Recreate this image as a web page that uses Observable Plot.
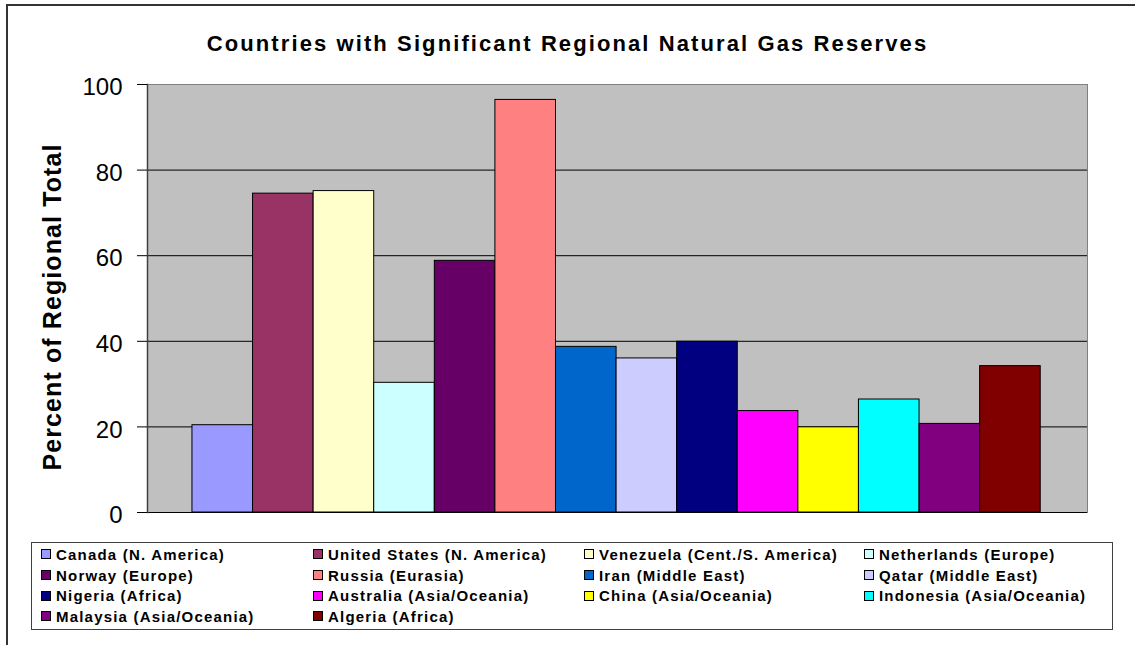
<!DOCTYPE html>
<html>
<head>
<meta charset="utf-8">
<script src="https://cdn.jsdelivr.net/npm/d3@7"></script>
<script src="https://cdn.jsdelivr.net/npm/@observablehq/plot@0.6"></script>
<style>
  html, body { margin: 0; padding: 0; background: #fff; overflow: hidden; }
  #wrap { position: relative; width: 1135px; height: 645px; overflow: hidden; font-family: "Liberation Sans", Arial, sans-serif; }
  #outer { position: absolute; left: 6px; top: 4px; width: 1200px; height: 700px; border: 2px solid #333; box-sizing: border-box; }
  #chart { position: absolute; left: 0; top: 0; }
  #title { position: absolute; left: 0; top: 31px; width: 1135px; text-align: center; font-weight: bold; font-size: 22px; line-height: 26px; letter-spacing: 2.1px; color: #000; white-space: nowrap; }
  #ylabel { position: absolute; left: 52px; top: 307px; transform: translate(-50%, -50%) rotate(-90deg); font-weight: bold; font-size: 25px; line-height: 25px; letter-spacing: 1.1px; white-space: nowrap; color: #000; }
  #legend { position: absolute; left: 31px; top: 542px; width: 1082px; height: 88px; border: 1px solid #404040; box-sizing: border-box; background: #fff;
            display: grid; grid-template-columns: 272px 271px 280px auto; grid-auto-rows: 20.7px; padding: 1px 0 0 9px; }
  .item { display: flex; align-items: center; font-weight: bold; font-size: 15px; letter-spacing: 1.2px; white-space: nowrap; color: #000; }
  .sw { width: 10px; height: 10px; border: 1px solid #000; box-sizing: border-box; margin-right: 5px; flex: none; }
</style>
</head>
<body>
<div id="wrap">
  <div id="outer"></div>
  <div id="chart"></div>
  <div id="title"></div>
  <div id="ylabel"></div>
  <div id="legend"></div>
</div>
<script>
const titleText = "Countries with Significant Regional Natural Gas Reserves";
const yLabelText = "Percent of Regional Total";
const countries = ["Canada", "United States", "Venezuela", "Netherlands", "Norway", "Russia", "Iran", "Qatar", "Nigeria", "Australia", "China", "Indonesia", "Malaysia", "Algeria"];
const regions = ["N. America", "N. America", "Cent./S. America", "Europe", "Europe", "Eurasia", "Middle East", "Middle East", "Africa", "Asia/Oceania", "Asia/Oceania", "Asia/Oceania", "Asia/Oceania", "Africa"];
const percents = [20.4, 74.5, 75.1, 30.3, 58.8, 96.4, 38.7, 36.0, 39.9, 23.7, 19.9, 26.4, 20.7, 34.2];
const palette = ["#9999FF", "#993366", "#FFFFCC", "#CCFFFF", "#660066", "#FF8080", "#0066CC", "#CCCCFF", "#000080", "#FF00FF", "#FFFF00", "#00FFFF", "#800080", "#800000"];
const yTicks = [0, 20, 40, 60, 80, 100];
const gridValues = [20, 40, 60, 80];

const data = countries.map((c, i) => ({country: c, region: regions[i], value: percents[i]}));

const chart = Plot.plot({
  width: 1135,
  height: 645,
  marginLeft: 147,
  marginRight: 48,
  marginTop: 84,
  marginBottom: 133,
  style: {background: "transparent", fontFamily: "Liberation Sans, Arial, sans-serif", color: "black", overflow: "visible"},
  x: {type: "band", domain: countries, paddingInner: 0, paddingOuter: 0.757, align: 0.49, round: false, axis: null},
  y: {domain: [0, 100], axis: null},
  color: {domain: countries, range: palette},
  marks: [
    Plot.frame({fill: "#C0C0C0", stroke: "#808080"}),
    Plot.ruleY(gridValues, {stroke: "black", strokeWidth: 1}),
    Plot.barY(data, {x: "country", y: "value", fill: "country", stroke: "black", strokeWidth: 1}),
    Plot.ruleY([0], {stroke: "black", strokeWidth: 1}),
    Plot.frame({anchor: "left", stroke: "#404040", strokeWidth: 1.5}),
    Plot.axisY({ticks: yTicks, tickSize: 10, tickFormat: () => "", label: null, stroke: "black"}),
    Plot.axisY({ticks: yTicks, tickSize: 0, tickPadding: 25, fontSize: 24, dy: 3, label: null, tickFormat: d => String(d)})
  ]
});
document.getElementById("chart").appendChild(chart);
document.getElementById("title").textContent = titleText;
document.getElementById("ylabel").textContent = yLabelText;

const legend = document.getElementById("legend");
countries.forEach((c, i) => {
  const item = document.createElement("div");
  item.className = "item";
  const sw = document.createElement("span");
  sw.className = "sw";
  sw.style.background = palette[i];
  const tx = document.createElement("span");
  tx.textContent = `${c} (${regions[i]})`;
  item.appendChild(sw);
  item.appendChild(tx);
  legend.appendChild(item);
});
</script>
</body>
</html>
